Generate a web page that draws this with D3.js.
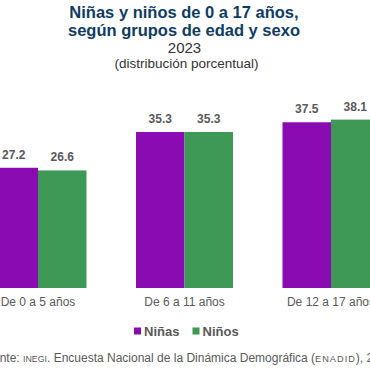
<!DOCTYPE html>
<html>
<head>
<meta charset="utf-8">
<script src="https://cdn.jsdelivr.net/npm/d3@7"></script>
<style>
  html, body { margin: 0; padding: 0; background: #fff; overflow: hidden; }
  svg { display: block; font-family: "Liberation Sans", Arial, sans-serif; }
</style>
</head>
<body>
<div id="chart"></div>
<script>
const categories = ['De 0 a 5 años', 'De 6 a 11 años', 'De 12 a 17 años'];
const seriesNames = ['Niñas', 'Niños'];
const ninas = [27.2, 35.3, 37.5];
const ninos = [26.6, 35.3, 38.1];
const colors = ['#8a0bb1', '#3d9955'];

const W = 370, H = 370;
const svg = d3.select('#chart').append('svg').attr('width', W).attr('height', H);

// titles
const navy = '#0f3c64';
svg.append('text').attr('x', 184).attr('y', 18).attr('text-anchor', 'middle')
  .attr('font-size', 16.5).attr('font-weight', 'bold').attr('fill', navy)
  .text('Niñas y niños de 0 a 17 años,');
svg.append('text').attr('x', 184).attr('y', 36).attr('text-anchor', 'middle')
  .attr('font-size', 16.5).attr('font-weight', 'bold').attr('fill', navy)
  .text('según grupos de edad y sexo');
svg.append('text').attr('x', 184.5).attr('y', 53).attr('text-anchor', 'middle')
  .attr('font-size', 15).attr('fill', '#333')
  .text('2023');
svg.append('text').attr('x', 186.5).attr('y', 68).attr('text-anchor', 'middle')
  .attr('font-size', 13.5).attr('fill', '#333')
  .text('(distribución porcentual)');

// scales
const baseline = 288;
const y = d3.scaleLinear().domain([0, 38.1]).range([baseline, 119.6]);
const x0 = d3.scalePoint().domain(categories).range([38, 331]);
const x1 = d3.scaleBand().domain(seriesNames).range([-48.5, 48.5]);

const rows = categories.map((c, i) => ({ cat: c, vals: [ninas[i], ninos[i]] }));

const groups = svg.append('g').selectAll('g')
  .data(rows).enter().append('g')
  .attr('transform', d => `translate(${x0(d.cat)},0)`);

groups.selectAll('rect')
  .data(d => d.vals.map((v, j) => ({ name: seriesNames[j], v, j })))
  .enter().append('rect')
  .attr('x', d => x1(d.name))
  .attr('width', x1.bandwidth())
  .attr('y', d => y(d.v))
  .attr('height', d => baseline - y(d.v))
  .attr('fill', d => colors[d.j]);

groups.selectAll('text.val')
  .data(d => d.vals.map((v, j) => ({ name: seriesNames[j], v, j })))
  .enter().append('text')
  .attr('class', 'val')
  .attr('x', d => x1(d.name) + x1.bandwidth() / 2)
  .attr('y', d => y(d.v) - 9)
  .attr('text-anchor', 'middle')
  .attr('font-size', 12).attr('font-weight', 'bold').attr('fill', '#595959')
  .text(d => d.v.toFixed(1));

// category axis labels
svg.append('g').selectAll('text')
  .data(categories).enter().append('text')
  .attr('x', d => x0(d))
  .attr('y', 306)
  .attr('text-anchor', 'middle')
  .attr('font-size', 12).attr('fill', '#595959')
  .text(d => d);

// legend
const legend = svg.append('g');
const legendX = [134, 192.5];
seriesNames.forEach((name, i) => {
  legend.append('rect').attr('x', legendX[i]).attr('y', 327.5)
    .attr('width', 7).attr('height', 7).attr('fill', colors[i]);
  legend.append('text').attr('x', legendX[i] + 10).attr('y', 336)
    .attr('font-size', 13).attr('font-weight', 'bold').attr('fill', '#595959')
    .text(name);
});

// source (runs off both edges, as in the original)
const src = svg.append('text').attr('x', -21).attr('y', 362)
  .attr('font-size', 12).attr('fill', '#595959');
src.append('tspan').text('Fuente: ');
src.append('tspan').attr('font-size', 8.8).text('INEGI');
src.append('tspan').text('. Encuesta Nacional de la Dinámica Demográfica (');
src.append('tspan').attr('font-size', 9.2).attr('letter-spacing', 1).text('ENADID');
src.append('tspan').text('), 2023.');
</script>
</body>
</html>
